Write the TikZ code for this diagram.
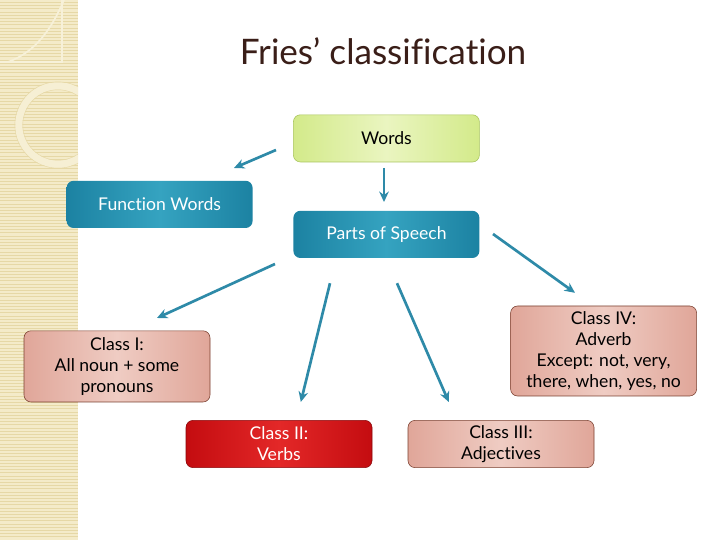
\documentclass[tikz,border=0pt]{standalone}
\usepackage{fontspec}
\setmainfont{Lato}[Ligatures=NoCommon]
\usepackage{xcolor}
\usetikzlibrary{positioning,arrows.meta}
\definecolor{teal1}{HTML}{1C82A2}
\definecolor{teal2}{HTML}{35A3C0}
\definecolor{lime1}{HTML}{D3EA8A}
\definecolor{lime2}{HTML}{EAF5C0}
\definecolor{limeb}{HTML}{A8C45C}
\definecolor{pink1}{HTML}{E0A699}
\definecolor{pink2}{HTML}{EFCCC3}
\definecolor{brownb}{HTML}{7A4030}
\definecolor{red1}{HTML}{C40C10}
\definecolor{red2}{HTML}{E32828}
\definecolor{arrowc}{HTML}{2E8AA8}
\definecolor{titlec}{HTML}{3A1E18}
\definecolor{beige}{HTML}{F4EBC9}
\definecolor{beiged}{HTML}{E6D8A6}

\begin{document}
\begin{tikzpicture}[every node/.style={font=\fontsize{12.5}{15}\selectfont, align=center},
  box/.style={rounded corners=5pt, minimum width=4.65cm, minimum height=1.18cm, inner sep=2pt},
  wordbox/.style={box, draw=limeb, left color=lime1, right color=lime1, middle color=lime2},
  tealbox/.style={box, text=white, left color=teal1, right color=teal1, middle color=teal2},
  classbox/.style={box, draw=brownb, left color=pink1, right color=pink1, middle color=pink2},
  redbox/.style={box, draw=red1!70!black, text=white, left color=red1, right color=red1, middle color=red2},
  arr/.style={-{Stealth[length=2.6mm, width=2.4mm]}, line width=1.9pt, draw=arrowc}]
\useasboundingbox (0,0) rectangle (18,13.5);
\fill[white] (0,0) rectangle (18,13.5);
% left strip
\fill[beige] (0,0) rectangle (1.95,13.5);
\foreach \y in {0,0.08,...,13.5} \draw[beiged, line width=0.6pt] (0,\y) -- (1.95,\y);
\begin{scope}
\clip (0,0) rectangle (1.95,13.5);
\draw[beige!80!white, line width=5pt] (1.45,10.375) circle (0.98);
\draw[beiged, line width=0.3pt] (1.45,10.375) circle (1.08);
\draw[beiged, line width=0.3pt] (1.45,10.375) circle (0.88);
\end{scope}
\draw[beige!70!white, line width=0.8pt] (0,11.95) -- (1.55,11.95) -- (1.55,13.5);
\draw[beige!70!white, line width=1.2pt] (0.2,11.95) .. controls (0.9,12.2) and (1.3,12.8) .. (1.6,13.5);
% title
\node[font=\fontsize{25}{29}\selectfont, text=titlec] (title) at (9.575,12.22) {Fries’ classification};
% boxes
\node[wordbox] (words) at (9.66,10.04) {Words};
\node[tealbox] (func) at (3.99,8.39) {Function Words};
\node[tealbox] (pos) at (9.66,7.64) {Parts of Speech};
\node[classbox, minimum height=1.78cm] (cls1) at (2.925,4.34) {Class I:\\All noun + some\\pronouns};
\node[redbox] (cls2) at (6.975,2.4) {Class II:\\Verbs};
\node[classbox] (cls3) at (12.525,2.4) {Class III:\\Adjectives};
\node[classbox, minimum height=2.25cm] (cls4) at (15.09,4.725) {Class IV:\\Adverb\\Except: not, very,\\there, when, yes, no};
% arrow ends
\coordinate (words-l) at (6.9,9.75);
\coordinate (func-in) at (5.85,9.3);
\coordinate (words-b) at (9.6,9.3);
\coordinate (pos-in) at (9.6,8.45);
\coordinate (pos-a) at (6.875,6.9);
\coordinate (cls1-in) at (3.925,5.55);
\coordinate (pos-b) at (8.25,6.42);
\coordinate (cls2-in) at (7.52,3.45);
\coordinate (pos-c) at (9.925,6.42);
\coordinate (cls3-in) at (11.22,3.45);
\coordinate (pos-d) at (12.325,7.65);
\coordinate (cls4-in) at (14.375,6.18);
\draw[arr] (words-l) -- (func-in);
\draw[arr] (words-b) -- (pos-in);
\draw[arr] (pos-a) -- (cls1-in);
\draw[arr] (pos-b) -- (cls2-in);
\draw[arr] (pos-c) -- (cls3-in);
\draw[arr] (pos-d) -- (cls4-in);
\end{tikzpicture}
\end{document}
